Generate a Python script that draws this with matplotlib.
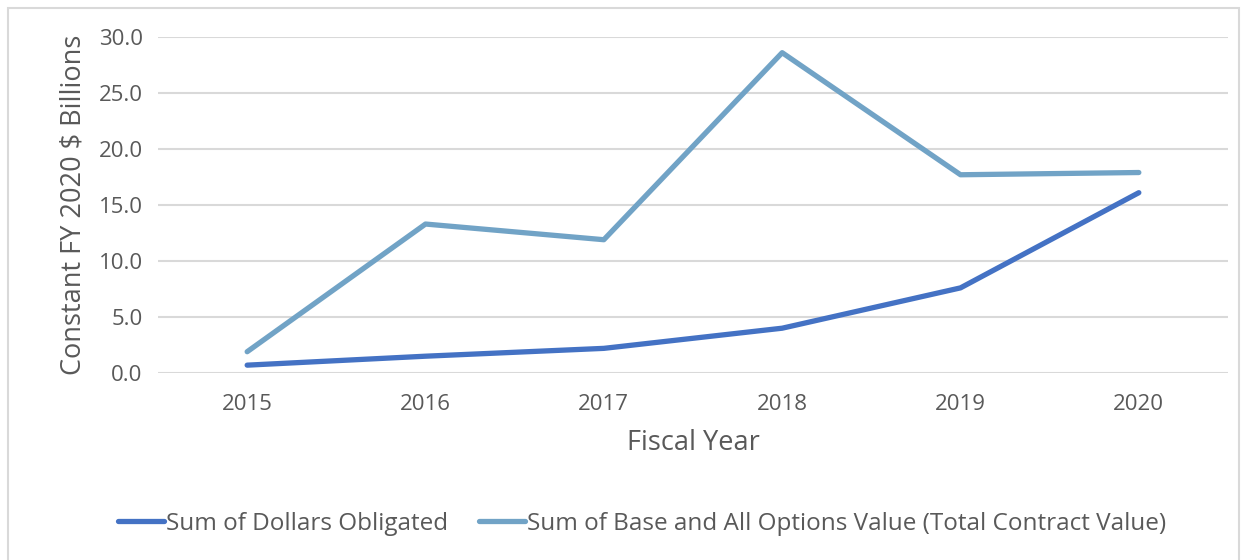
import matplotlib.pyplot as plt
from matplotlib.patches import Rectangle

years = ["2015", "2016", "2017", "2018", "2019", "2020"]
obligated = [0.7, 1.5, 2.2, 4.0, 7.6, 16.1]
total_value = [1.9, 13.3, 11.9, 28.6, 17.7, 17.9]
yticks = [0, 5, 10, 15, 20, 25, 30]

plt.rcParams['font.family'] = ['Open Sans', 'DejaVu Sans']
grey = "#595959"

fig = plt.figure(figsize=(12.47, 5.6), dpi=100)
ax = fig.add_axes([158/1247, 1 - 373/560, 1070/1247, 336/560])

x = list(range(len(years)))
ax.plot(x, obligated, color="#4472C4", lw=3.8, solid_capstyle="round",
        solid_joinstyle="round", label="Sum of Dollars Obligated", zorder=3)
ax.plot(x, total_value, color="#71A3C6", lw=3.8, solid_capstyle="round",
        solid_joinstyle="round",
        label="Sum of Base and All Options Value (Total Contract Value)", zorder=3)

ax.set_xlim(-0.5, len(years) - 0.5)
ax.set_ylim(0, 30)
ax.set_xticks(x)
ax.set_xticklabels(years)
ax.set_yticks(yticks)
ax.set_yticklabels([f"{v:.1f}" for v in yticks])
ax.tick_params(length=0, labelsize=16, colors=grey, pad=11)
ax.tick_params(axis="x", pad=15)
ax.grid(axis="y", color="#D9D9D9", lw=1.5)
ax.set_axisbelow(True)
for s in ax.spines.values():
    s.set_visible(False)

ax.set_xlabel("Fiscal Year", fontsize=19.5, color=grey, labelpad=10)
ax.set_ylabel("Constant FY 2020 $ Billions", fontsize=19.5, color=grey, labelpad=8)

leg = fig.legend(loc="center", bbox_to_anchor=(642/1247, 1 - 524/560), ncol=2,
                 frameon=False, fontsize=17.5, handlelength=1.9, handletextpad=0.05,
                 columnspacing=1.3, labelcolor=grey)

fig.patches.append(Rectangle((8/1247, -0.01), 1231/1247, 1 - 8/560 + 0.01,
                             transform=fig.transFigure, fill=False,
                             edgecolor="#D9D9D9", lw=1.5))

fig.savefig("out.png", dpi=100, facecolor="white")
